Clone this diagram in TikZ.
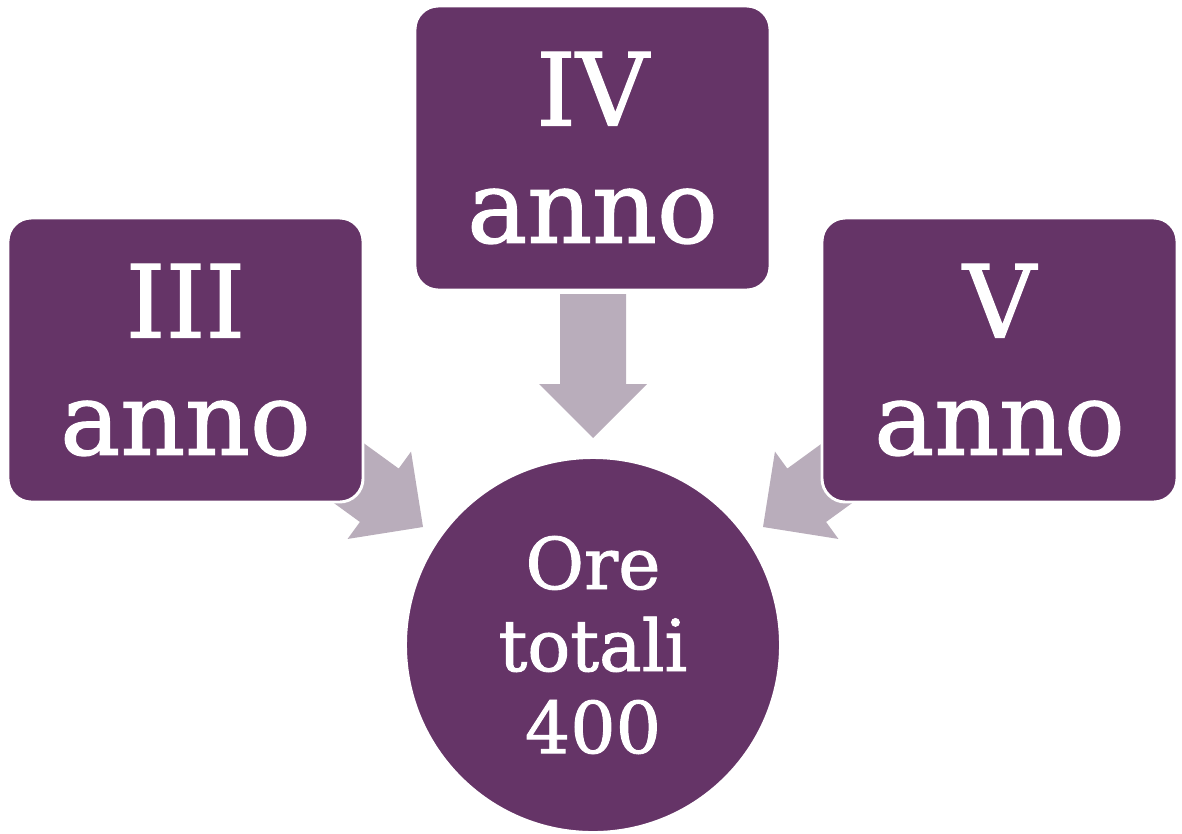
\documentclass[tikz,border=0pt]{standalone}
\usepackage{fontspec}
\setmainfont{DejaVu Serif}[FakeBold=1.3]
\definecolor{plum}{RGB}{101,52,103}
\definecolor{arrowc}{RGB}{185,173,187}
\tikzset{
  yearbox/.style={draw=white, line width=2.5pt, fill=plum, rounded corners=0.7cm,
    minimum width=10.65cm, minimum height=8.52cm, inner sep=0pt, align=center,
    text=white, font=\fontsize{86}{100}\selectfont},
  totalbox/.style={circle, draw=white, line width=2.5pt, fill=plum,
    minimum size=11.25cm, inner sep=0pt, align=center,
    text=white, font=\fontsize{61}{70}\selectfont},
  blockarrow/.style={fill=arrowc}
}
\newcommand{\myblockarrow}[2]{%
  \fill[blockarrow, shift={#1}, rotate=#2]
    (0,0) -- (-54,54) -- (-54,33) -- (-144,33) -- (-144,-33) -- (-54,-33) -- (-54,-54) -- cycle;}
\begin{document}
\begin{tikzpicture}[x=0.03cm, y=-0.03cm]
\useasboundingbox (0,0) rectangle (1182,833);
\coordinate (tipL) at (423,527);
\coordinate (tipC) at (593,438);
\coordinate (tipR) at (763,527);
\myblockarrow{(tipL)}{-36}
\myblockarrow{(tipC)}{-90}
\myblockarrow{(tipR)}{-144}
\node[yearbox] (y3) at (185.5,360) {III\\anno};
\node[yearbox] (y4) at (592.5,148) {IV\\anno};
\node[yearbox] (y5) at (999.5,360) {V\\anno};
\node[totalbox] (tot) at (593,645) {Ore\\totali\\400};
\end{tikzpicture}
\end{document}
